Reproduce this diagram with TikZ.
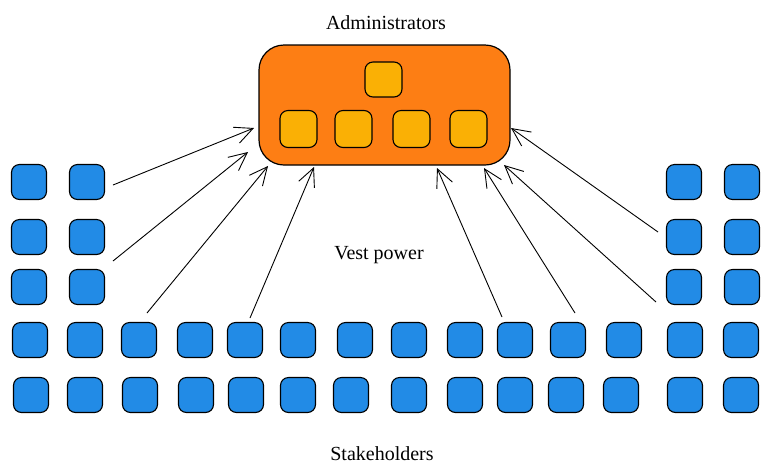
\documentclass[tikz,border=0pt]{standalone}
\usepackage{fontspec}
\setmainfont{Liberation Serif}
\usetikzlibrary{arrows.meta, positioning}

\definecolor{adminorange}{HTML}{FD7E14}
\definecolor{adminyellow}{HTML}{FAB005}
\definecolor{memberblue}{HTML}{228BE6}

\begin{document}
\begin{tikzpicture}[
    x=1pt, y=-1pt,
    >={Straight Barb[length=18pt, width=17pt]}, % open sketch arrow heads
    board/.style={draw=black, line width=1.2pt, fill=adminorange, rounded corners=25pt,
        minimum width=251pt, minimum height=120pt, inner sep=0pt}, % admin box
    admin/.style={draw=black, line width=1.1pt, fill=adminyellow, rounded corners=8pt,
        minimum width=37pt, minimum height=37pt, inner sep=0pt}, % yellow members
    member/.style={draw=black, line width=1.1pt, fill=memberblue, rounded corners=8pt,
        minimum size=35pt, inner sep=0pt}, % blue stakeholders
    labelstyle/.style={font=\fontsize{20}{24}\selectfont}, % text labels
    power/.style={->, line width=0.9pt} % arrows to the board
]

    \useasboundingbox (0,0) rectangle (770,475);

    % Labels
    \node[labelstyle] (title) at (386,23) {Administrators};
    \node[labelstyle] (vest) at (379,255) {Vest power};
    \node[labelstyle] (stake) at (382,454) {Stakeholders};

    % Administrators box
    \node[board] (board) at (384.5,105) {};
    \node[admin, minimum height=35pt] (chief) at (383.5,79.5) {};
    \foreach \x [count=\i] in {298.5, 353.5, 411.5, 468.5}
        \node[admin] (adm\i) at (\x,129) {};

    % Stakeholders at the sides
    \foreach \y [count=\j] in {182, 237, 287} {
        \node[member] (left\j a) at (29,\y) {};
        \node[member] (left\j b) at (87,\y) {};
        \node[member] (right\j a) at (684,\y) {};
        \node[member] (right\j b) at (742,\y) {};
    }

    % Stakeholders in the two bottom rows
    \foreach \x [count=\i] in {30, 85, 139, 195, 245, 298, 355, 409, 465, 515, 568, 624, 685, 741}
        \node[member] (rowa\i) at (\x,340) {};
    \foreach \x [count=\i] in {31, 85, 140, 196, 246, 298, 351, 409, 465, 515, 566, 621, 685, 741}
        \node[member] (rowb\i) at (\x,395) {};

    % Arrow start and end points
    \coordinate (s1) at (113,185);  \coordinate (e1) at (254,128);
    \coordinate (s2) at (113,261);  \coordinate (e2) at (248,152);
    \coordinate (s3) at (147,313);  \coordinate (e3) at (268,166);
    \coordinate (s4) at (250,318);  \coordinate (e4) at (314,167);
    \coordinate (s5) at (502,317);  \coordinate (e5) at (437,168);
    \coordinate (s6) at (575,313);  \coordinate (e6) at (484,168);
    \coordinate (s7) at (656,302);  \coordinate (e7) at (504,165);
    \coordinate (s8) at (658,232);  \coordinate (e8) at (511,128);

    % Arrows
    \foreach \k in {1,...,8}
        \draw[power] (s\k) -- (e\k);

\end{tikzpicture}
\end{document}
